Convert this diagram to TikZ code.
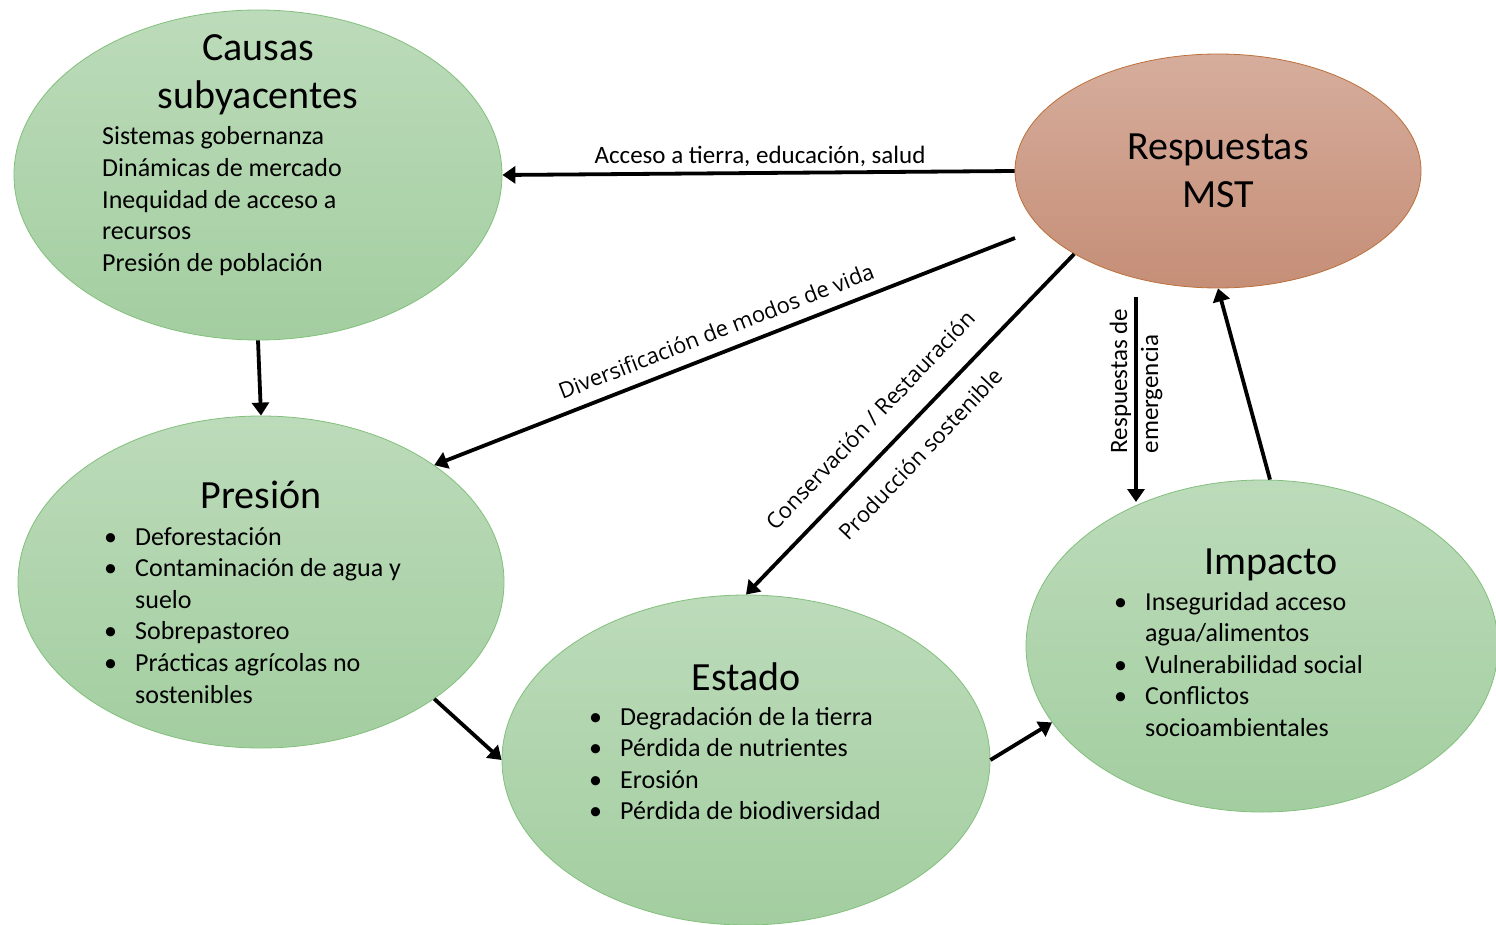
\documentclass[tikz,border=0pt]{standalone}
\usepackage{fontspec}
\setmainfont{Carlito}
\newfontfamily\slantlabel{Open Sans}
\usetikzlibrary{shapes.geometric,arrows.meta}

\definecolor{greentop}{RGB}{188,219,186}
\definecolor{greenbot}{RGB}{163,206,160}
\definecolor{greenline}{RGB}{130,192,124}
\definecolor{rusttop}{RGB}{214,173,156}
\definecolor{rustbot}{RGB}{197,142,119}
\definecolor{rustline}{RGB}{188,112,58}

% bullet with a fixed hanging indent
\newcommand\bul{\makebox[31pt][l]{\textbullet}}
\newcommand\ind{\hspace*{31pt}}
\newcommand\titlefont{\fontsize{40}{48}\selectfont}
\newcommand\bodyfont{\fontsize{26}{31.6}\selectfont}

\begin{document}
\begin{tikzpicture}[x=1pt,y=-1pt,
  bubble/.style={ellipse, draw=greenline, line width=0.8pt,
    top color=greentop, bottom color=greenbot, inner sep=0pt},
  rustbubble/.style={ellipse, draw=rustline, line width=0.8pt,
    top color=rusttop, bottom color=rustbot, inner sep=0pt},
  title/.style={anchor=base, inner sep=0pt, font=\titlefont},
  body/.style={anchor=base west, inner sep=0pt, font=\bodyfont},
  arr/.style={line width=3.8pt, -{Triangle[length=13pt,width=17pt]}},
  edgelbl/.style={inner sep=0pt, font=\fontsize{25}{31}\selectfont},
  slantlbl/.style={inner sep=0pt, font=\slantlabel\fontsize{22}{26}\selectfont}
]
\useasboundingbox (0,0) rectangle (1496,925);
\fill[white] (0,0) rectangle (1496,925);

% ellipses
\node[bubble, minimum width=488pt, minimum height=330pt] (causas) at (258,175) {};
\node[rustbubble, minimum width=406pt, minimum height=234pt] (resp) at (1218,171) {};
\node[bubble, minimum width=486pt, minimum height=332pt] (pres) at (261,582) {};
\node[bubble, minimum width=488pt, minimum height=330pt] (estado) at (746,760) {};
\node[bubble, minimum width=472pt, minimum height=332pt] (imp) at (1262,646) {};

% texts inside the ellipses
\node[title] (causasT) at (258,61) {\begin{tabular}[t]{@{}c@{}}Causas\\subyacentes\end{tabular}};
\node[body] (causasL) at (102,145) {\begin{tabular}[t]{@{}l@{}}
  Sistemas gobernanza\\
  Dinámicas de mercado\\
  Inequidad de acceso a\\
  recursos\\
  Presión de población\end{tabular}};

\node[title] (respT) at (1218,160) {\begin{tabular}[t]{@{}c@{}}Respuestas\\MST\end{tabular}};

\node[title] (presT) at (261,508) {Presión};
\node[body] (presL) at (104,545) {\begin{tabular}[t]{@{}l@{}}
  \bul Deforestación\\
  \bul Contaminación de agua y\\
  \ind suelo\\
  \bul Sobrepastoreo\\
  \bul Prácticas agrícolas no\\
  \ind sostenibles\end{tabular}};

\node[title] (estadoT) at (746,690) {Estado};
\node[body] (estadoL) at (589,725) {\begin{tabular}[t]{@{}l@{}}
  \bul Degradación de la tierra\\
  \bul Pérdida de nutrientes\\
  \bul Erosión\\
  \bul Pérdida de biodiversidad\end{tabular}};

\node[title] (impT) at (1271,574) {Impacto};
\node[body] (impL) at (1114,610) {\begin{tabular}[t]{@{}l@{}}
  \bul Inseguridad acceso\\
  \ind agua/alimentos\\
  \bul Vulnerabilidad social\\
  \bul Conflictos\\
  \ind socioambientales\end{tabular}};

% free ends of two connectors
\coordinate (divstart) at (1015,238);
\coordinate (emgtop) at (1136,297);
\coordinate (emgbot) at (1136,502);

% connectors
\draw[arr] (resp.west) -- (causas.east);
\draw[arr] (divstart) -- (pres.34);
\draw[arr] (resp.210) -- (estado.north);
\draw[arr] (emgtop) -- (emgbot);
\draw[arr] ([xshift=8pt]imp.north) -- (resp.south);
\draw[arr] (causas.south) -- (pres.north);
\draw[arr] (pres.-34) -- (estado.west);
\draw[arr] (estado.east) -- (imp.200);

% connector labels
\node[edgelbl, anchor=base] (acclbl) at (760,164) {Acceso a tierra, educación, salud};
\node[slantlbl, rotate=21.3] (divlbl) at (716,331) {Diversificación de modos de vida};
\node[slantlbl, rotate=46.5] (conslbl) at (870,420) {Conservación / Restauración};
\node[slantlbl, rotate=46.5] (prodlbl) at (920,454) {Producción sostenible};
\node[edgelbl, rotate=90, align=left] (emglbl) at (1136,381) {Respuestas de\\emergencia};
\end{tikzpicture}
\end{document}
